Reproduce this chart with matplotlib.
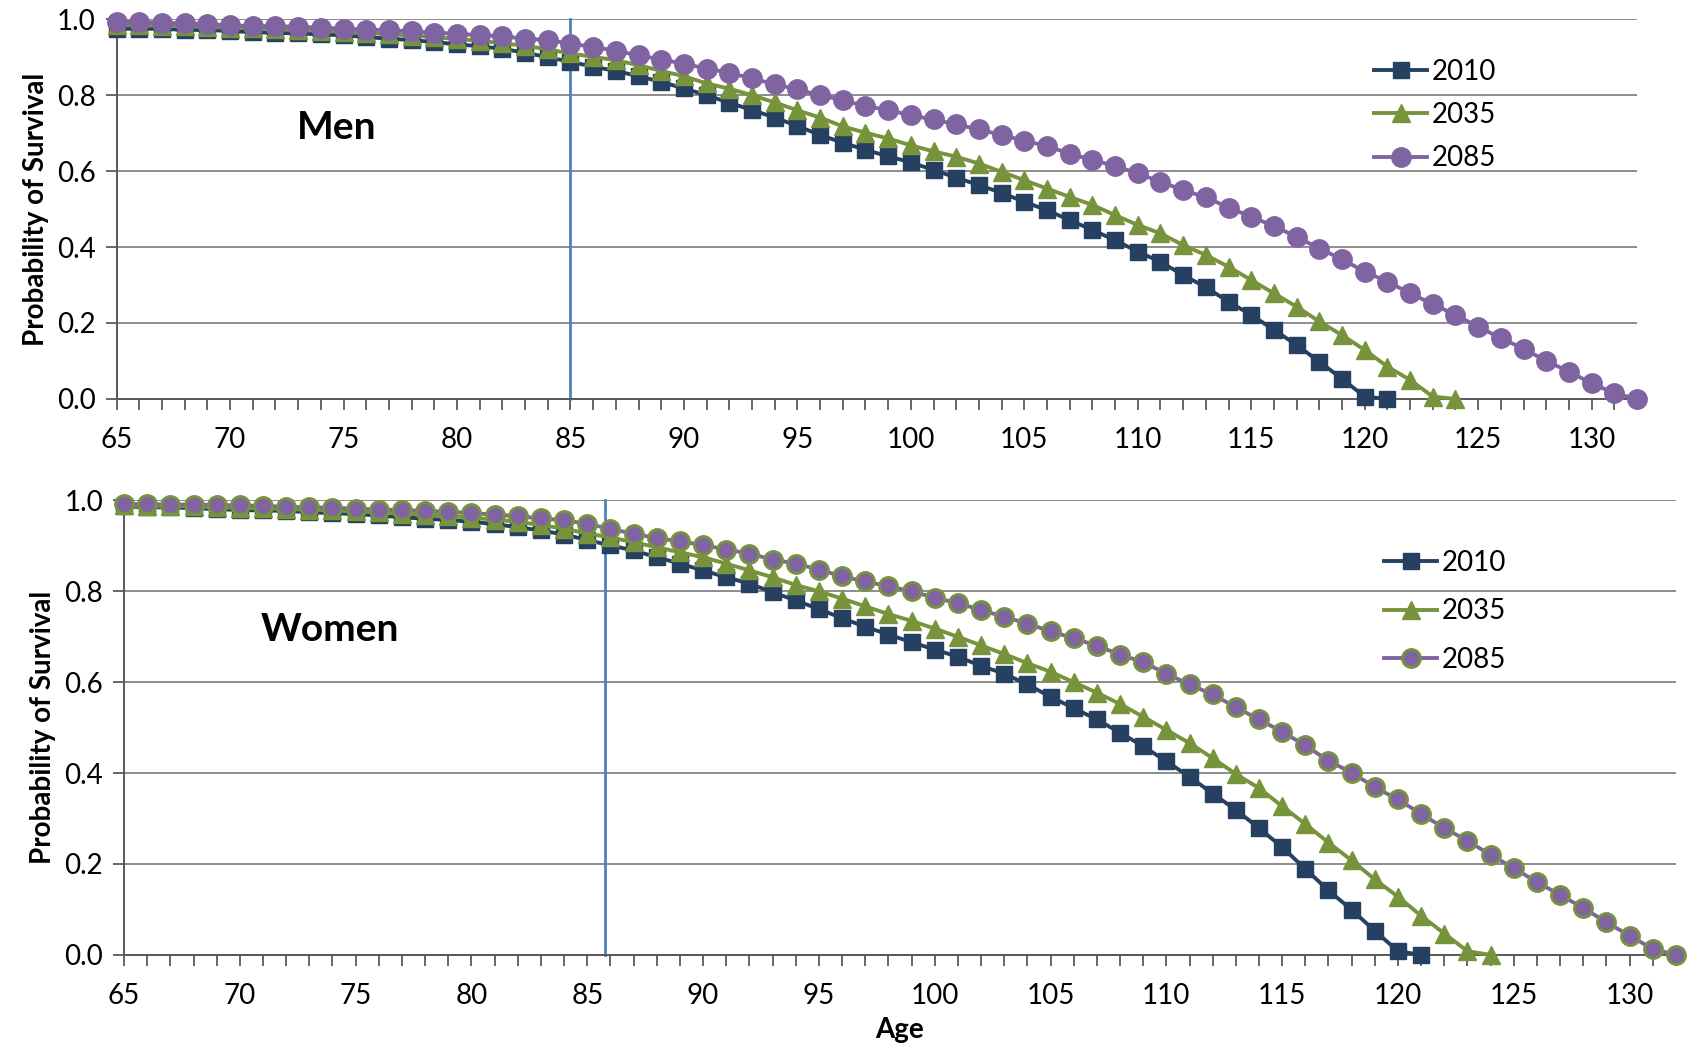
import matplotlib
matplotlib.use("Agg")
import matplotlib.pyplot as plt
from matplotlib.ticker import MultipleLocator
import numpy as np

plt.rcParams['font.family'] = ['Lato', 'DejaVu Sans']

# survival probabilities, starting at age 65
men_2010 = [0.975, 0.975, 0.975, 0.972, 0.972, 0.969, 0.966, 0.964, 0.963, 0.960,
            0.958, 0.953, 0.949, 0.945, 0.940, 0.934, 0.929, 0.922, 0.912, 0.900,
            0.888, 0.875, 0.864, 0.850, 0.835, 0.818, 0.800, 0.780, 0.761, 0.741,
            0.719, 0.695, 0.675, 0.656, 0.639,
            0.623, 0.603, 0.583, 0.563, 0.543, 0.519, 0.497, 0.471, 0.445, 0.418,
            0.388, 0.361, 0.326, 0.294, 0.256, 0.221, 0.182, 0.142, 0.098, 0.053,
            0.006, 0.0]
men_2035 = [0.985, 0.984, 0.983, 0.982, 0.980, 0.978, 0.976, 0.974, 0.972, 0.970,
            0.967, 0.964, 0.961, 0.957, 0.953, 0.948, 0.943, 0.937, 0.930, 0.921,
            0.910, 0.901, 0.892, 0.879, 0.864, 0.850, 0.831, 0.817, 0.800, 0.781,
            0.760, 0.741, 0.718, 0.701, 0.686,
            0.668, 0.652, 0.638, 0.620, 0.598, 0.576, 0.554, 0.532, 0.511, 0.484,
            0.458, 0.436, 0.405, 0.379, 0.348, 0.313, 0.278, 0.243, 0.204, 0.168,
            0.129, 0.085, 0.050, 0.006, 0.0]
men_2085 = [0.993, 0.993, 0.991, 0.989, 0.987, 0.984, 0.982, 0.982, 0.980, 0.978,
            0.975, 0.973, 0.971, 0.968, 0.965, 0.962, 0.958, 0.955, 0.949, 0.945,
            0.936, 0.927, 0.917, 0.905, 0.894, 0.883, 0.870, 0.859, 0.844, 0.829,
            0.815, 0.800, 0.787, 0.771, 0.761,
            0.747, 0.736, 0.723, 0.710, 0.695, 0.680, 0.666, 0.646, 0.629, 0.614,
            0.594, 0.572, 0.550, 0.531, 0.504, 0.480, 0.455, 0.427, 0.396, 0.368,
            0.335, 0.309, 0.278, 0.250, 0.221, 0.190, 0.160, 0.132, 0.100, 0.072,
            0.041, 0.015, 0.0]

women_2010 = [0.987, 0.985, 0.985, 0.983, 0.981, 0.979, 0.978, 0.977, 0.974, 0.972,
              0.970, 0.967, 0.963, 0.960, 0.957, 0.953, 0.948, 0.941, 0.934, 0.925,
              0.913, 0.901, 0.890, 0.875, 0.861, 0.846, 0.831, 0.817, 0.798, 0.780,
              0.761, 0.741, 0.722, 0.705, 0.688,
              0.672, 0.656, 0.636, 0.619, 0.595, 0.568, 0.543, 0.518, 0.489, 0.459,
              0.426, 0.392, 0.355, 0.319, 0.279, 0.237, 0.189, 0.142, 0.099, 0.053,
              0.008, 0.0]
women_2035 = [0.989, 0.988, 0.988, 0.987, 0.985, 0.984, 0.983, 0.981, 0.980, 0.978,
              0.976, 0.974, 0.971, 0.969, 0.966, 0.962, 0.958, 0.953, 0.946, 0.938,
              0.927, 0.919, 0.908, 0.897, 0.886, 0.875, 0.861, 0.846, 0.831, 0.814,
              0.800, 0.784, 0.767, 0.750, 0.735,
              0.718, 0.700, 0.681, 0.662, 0.642, 0.623, 0.600, 0.577, 0.552, 0.524,
              0.495, 0.466, 0.433, 0.398, 0.367, 0.327, 0.288, 0.247, 0.208, 0.166,
              0.128, 0.086, 0.047, 0.008, 0.0]
women_2085 = [0.992, 0.992, 0.991, 0.991, 0.990, 0.989, 0.988, 0.986, 0.985, 0.984,
              0.982, 0.980, 0.979, 0.977, 0.975, 0.972, 0.969, 0.965, 0.961, 0.956,
              0.949, 0.937, 0.927, 0.917, 0.910, 0.902, 0.892, 0.883, 0.870, 0.861,
              0.848, 0.833, 0.822, 0.811, 0.800,
              0.786, 0.774, 0.759, 0.744, 0.729, 0.712, 0.697, 0.680, 0.661, 0.644,
              0.619, 0.595, 0.573, 0.545, 0.518, 0.491, 0.461, 0.427, 0.401, 0.369,
              0.342, 0.310, 0.279, 0.251, 0.220, 0.191, 0.160, 0.132, 0.103, 0.072,
              0.042, 0.013, 0.0]

years = ['2010', '2035', '2085']
start_age = 65
men_marker_age = 85
women_marker_age = 85.75

navy = '#254061'
green = '#77933C'
purple = '#8064A2'
vline_col = '#4F81BD'
grid_col = '#8C8C8C'
axis_col = '#595959'

fig = plt.figure(figsize=(16.92, 10.47), dpi=100)
ax1 = fig.add_axes([0.0689, 0.619, 0.8986, 0.3626])
ax2 = fig.add_axes([0.0733, 0.088, 0.9172, 0.434])


def draw(ax, series, label, lab_xy, vx, legend_anchor, spacing, circle_edge):
    styles = [
        dict(color=navy, marker='s', ms=12, mec=navy, mfc=navy),
        dict(color=green, marker='^', ms=12.5, mec=green, mfc=green),
        dict(color=purple, marker='o', ms=13, mec=circle_edge, mfc=purple, mew=2),
    ]
    for vals, yr, st in zip(series, years, styles):
        ages = np.arange(start_age, start_age + len(vals))
        ax.plot(ages, vals, lw=2.8, label=yr, clip_on=False, zorder=3, **st)
    ax.set_xlim(65, 132)
    ax.set_ylim(0, 1.0)
    ax.xaxis.set_major_locator(MultipleLocator(5))
    ax.xaxis.set_minor_locator(MultipleLocator(1))
    ax.yaxis.set_major_locator(MultipleLocator(0.2))
    ax.yaxis.set_major_formatter(plt.FormatStrFormatter('%.1f'))
    ax.grid(axis='y', color=grid_col, lw=1.4)
    ax.set_axisbelow(True)
    for s in ['top', 'right']:
        ax.spines[s].set_visible(False)
    for s in ['left', 'bottom']:
        ax.spines[s].set_color(axis_col)
        ax.spines[s].set_linewidth(1.4)
    ax.tick_params(axis='x', which='both', direction='out', length=8, width=1.3,
                   color=axis_col, labelsize=20, pad=12)
    ax.tick_params(axis='y', direction='out', length=8, width=1.3,
                   color=axis_col, labelsize=20, pad=7)
    ax.set_ylabel('Probability of Survival', fontsize=20, fontweight='bold', labelpad=6)
    ax.axvline(vx, color=vline_col, lw=2, zorder=2, clip_on=False)
    ax.text(lab_xy[0], lab_xy[1], label, fontsize=28, fontweight='bold',
            ha='center', va='center')
    ax.legend(loc='upper left', bbox_to_anchor=legend_anchor, frameon=False,
              fontsize=20, handlelength=1.9, handletextpad=0.15,
              labelspacing=spacing, borderaxespad=0)


draw(ax1, [men_2010, men_2035, men_2085], 'Men', (74.7, 0.716),
     men_marker_age, (0.82, 0.925), 0.62, purple)
draw(ax2, [women_2010, women_2035, women_2085], 'Women', (73.9, 0.715),
     women_marker_age, (0.805, 0.915), 0.8, green)
ax2.set_xlabel('Age', fontsize=20, fontweight='bold', labelpad=6)

fig.savefig('out.png', dpi=100)
